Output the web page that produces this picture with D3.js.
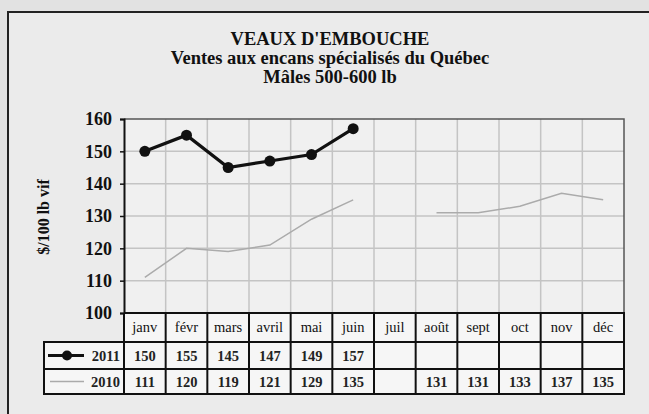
<!DOCTYPE html>
<html>
<head>
<meta charset="utf-8">
<script src="https://cdn.jsdelivr.net/npm/d3@7"></script>
<style>
  body { margin: 0; background: #e2e2e2; }
  svg { display: block; font-family: "Liberation Serif", "DejaVu Serif", serif; }
</style>
</head>
<body>
<div id="chart"></div>
<script>
var months = ["janv", "févr", "mars", "avril", "mai", "juin", "juil", "août", "sept", "oct", "nov", "déc"];
var values2011 = [150, 155, 145, 147, 149, 157, null, null, null, null, null, null];
var values2010 = [111, 120, 119, 121, 129, 135, null, 131, 131, 133, 137, 135];
var yTicks = [100, 110, 120, 130, 140, 150, 160];
var titleLines = ["VEAUX D'EMBOUCHE", "Ventes aux encans spécialisés du Québec", "Mâles 500-600 lb"];

var W = 649, H = 414;
var plot = { left: 124, right: 624, top: 119, bottom: 313 };
var rowH = [29, 27, 25]; // header, 2011, 2010
var tableLeft = 44;

var svg = d3.select("#chart").append("svg").attr("width", W).attr("height", H);

// outer frame
svg.append("rect").attr("x", 8).attr("y", 12).attr("width", 660).attr("height", 420)
  .attr("fill", "#ebebeb").attr("stroke", "#222").attr("stroke-width", 2);

// titles
svg.selectAll(".title").data(titleLines).enter().append("text")
  .attr("x", 330).attr("y", (d, i) => 44.5 + i * 19)
  .attr("text-anchor", "middle").attr("font-weight", "bold").attr("font-size", 18.5)
  .attr("fill", "#111").text(d => d);

var x = d3.scaleBand().domain(months).range([plot.left, plot.right]);
var y = d3.scaleLinear().domain([100, 160]).range([plot.bottom, plot.top]);

// plot area
svg.append("rect").attr("x", plot.left).attr("y", plot.top)
  .attr("width", plot.right - plot.left).attr("height", plot.bottom - plot.top)
  .attr("fill", "#f0f0f0");

// horizontal grid
svg.append("g").selectAll("line").data(yTicks.slice(1, -1)).enter().append("line")
  .attr("x1", plot.left).attr("x2", plot.right)
  .attr("y1", d => y(d)).attr("y2", d => y(d))
  .attr("stroke", "#c4c4c4").attr("stroke-width", 1.5);

// vertical grid
svg.append("g").selectAll("line").data(months.slice(1)).enter().append("line")
  .attr("x1", d => x(d)).attr("x2", d => x(d))
  .attr("y1", plot.top).attr("y2", plot.bottom)
  .attr("stroke", "#c4c4c4").attr("stroke-width", 1.5);

// plot border top/right
svg.append("path")
  .attr("d", "M" + plot.left + "," + plot.top + "H" + plot.right + "V" + plot.bottom)
  .attr("fill", "none").attr("stroke", "#555").attr("stroke-width", 1.5);

// y axis
var yAxis = svg.append("g").attr("transform", "translate(" + plot.left + ",0)")
  .call(d3.axisLeft(y).tickValues(yTicks).tickSize(4).tickPadding(8));
yAxis.select(".domain").attr("stroke", "#111").attr("stroke-width", 2);
yAxis.selectAll(".tick line").attr("stroke", "#111").attr("stroke-width", 1.5);
yAxis.selectAll("text").attr("font-family", "Liberation Serif").attr("font-weight", "bold")
  .attr("font-size", 18).attr("fill", "#111");

svg.append("text").attr("transform", "translate(49," + 217 + ") rotate(-90)")
  .attr("text-anchor", "middle").attr("font-weight", "bold").attr("font-size", 16)
  .attr("fill", "#111").text("$/100 lb vif");

// lines
var cx = d => x(d) + x.bandwidth() / 2;
var lineGen = d3.line().defined(d => d.v != null).x(d => cx(d.m)).y(d => y(d.v));
var data2010 = months.map((m, i) => ({ m: m, v: values2010[i] }));
var data2011 = months.map((m, i) => ({ m: m, v: values2011[i] }));

svg.append("path").datum(data2010).attr("d", lineGen)
  .attr("fill", "none").attr("stroke", "#ababab").attr("stroke-width", 1.5);

svg.append("path").datum(data2011).attr("d", lineGen)
  .attr("fill", "none").attr("stroke", "#111").attr("stroke-width", 3.2);
svg.append("g").selectAll("circle").data(data2011.filter(d => d.v != null)).enter().append("circle")
  .attr("cx", d => cx(d.m)).attr("cy", d => y(d.v)).attr("r", 5.5).attr("fill", "#111");

// data table
var t0 = plot.bottom, t1 = t0 + rowH[0], t2 = t1 + rowH[1], t3 = t2 + rowH[2];
var tbl = svg.append("g");
tbl.append("rect").attr("x", plot.left).attr("y", t0).attr("width", plot.right - plot.left).attr("height", rowH[0]).attr("fill", "#f6f6f6");
tbl.append("rect").attr("x", tableLeft).attr("y", t1).attr("width", plot.right - tableLeft).attr("height", t3 - t1).attr("fill", "#f6f6f6");

var stroke = "#111";
tbl.append("path").attr("fill", "none").attr("stroke", stroke).attr("stroke-width", 2)
  .attr("d", "M" + plot.left + "," + t0 + "H" + plot.right + "V" + t3 + "H" + tableLeft + "V" + t1 + "H" + plot.right
    + "M" + tableLeft + "," + t2 + "H" + plot.right + "M" + plot.left + "," + t0 + "V" + t3);
tbl.selectAll(".vcol").data(months.slice(1)).enter().append("line")
  .attr("x1", d => x(d)).attr("x2", d => x(d)).attr("y1", t0).attr("y2", t3)
  .attr("stroke", stroke).attr("stroke-width", 2);

tbl.selectAll(".mlab").data(months).enter().append("text")
  .attr("x", d => cx(d)).attr("y", t0 + 19).attr("text-anchor", "middle")
  .attr("font-size", 14.5).attr("fill", "#111").text(d => d);

function rowText(data, yy) {
  tbl.append("g").selectAll("text").data(data.filter(d => d.v != null)).enter().append("text")
    .attr("x", d => cx(d.m)).attr("y", yy).attr("text-anchor", "middle")
    .attr("font-size", 14.5).attr("font-weight", "bold").attr("fill", "#222").text(d => d.v);
}
rowText(data2011, t1 + 19);
rowText(data2010, t2 + 18);

// legend keys
var ly1 = t1 + rowH[1] / 2, ly2 = t2 + rowH[2] / 2;
tbl.append("line").attr("x1", 48).attr("x2", 84).attr("y1", ly1).attr("y2", ly1).attr("stroke", "#111").attr("stroke-width", 3);
tbl.append("circle").attr("cx", 67).attr("cy", ly1).attr("r", 5).attr("fill", "#111");
tbl.append("line").attr("x1", 50).attr("x2", 84).attr("y1", ly2).attr("y2", ly2).attr("stroke", "#ababab").attr("stroke-width", 1.5);
tbl.append("text").attr("x", 120).attr("y", t1 + 19).attr("text-anchor", "end")
  .attr("font-size", 14.5).attr("font-weight", "bold").attr("fill", "#222").text("2011");
tbl.append("text").attr("x", 120).attr("y", t2 + 18).attr("text-anchor", "end")
  .attr("font-size", 14.5).attr("font-weight", "bold").attr("fill", "#222").text("2010");
</script>
</body>
</html>
